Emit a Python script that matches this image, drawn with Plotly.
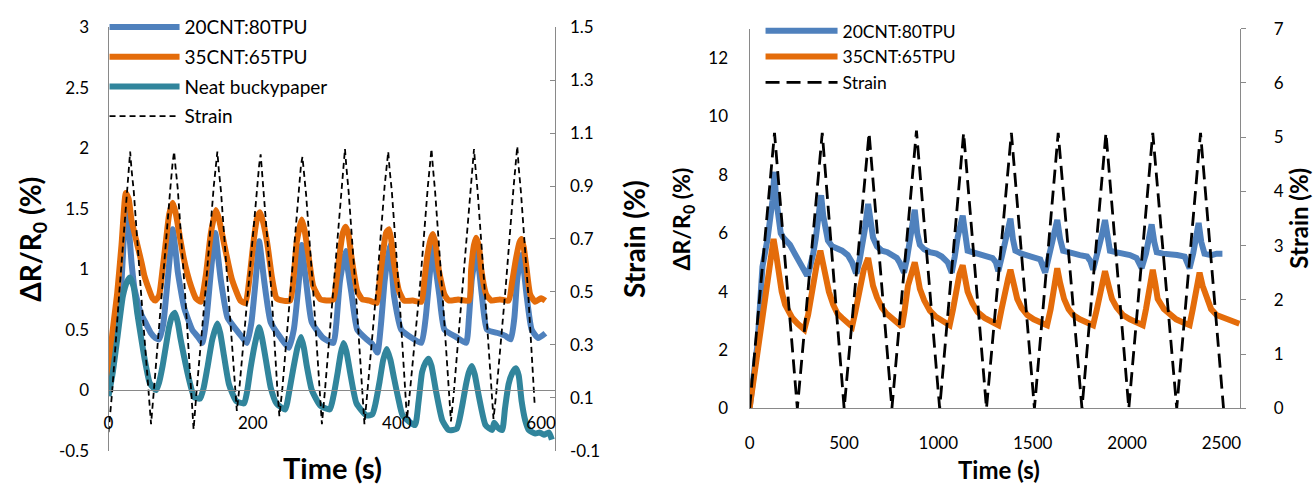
import plotly.graph_objects as go

# ---------------- Left panel: 600 s cyclic test (strain ~1 %) ----------------
t_blue_a = [0, 5, 12, 18, 24, 28, 32, 36, 45, 52, 59, 65, 70, 76, 80, 85, 89, 93, 96, 105, 116, 124, 130,
            136, 142, 148, 152, 156, 165, 177, 185, 192, 198, 204, 209, 212, 216, 225, 239, 250, 257, 264,
            268, 271, 275, 282, 298, 312, 316, 321, 329, 332, 337, 345, 358, 366, 373, 378, 383, 390, 393,
            396, 406, 421, 434, 440, 445, 450, 454, 459, 466, 482, 496, 500, 504, 511, 514, 518, 525, 541,
            550, 558, 563, 567, 573, 576, 580, 587, 596, 606]
r_blue_a = [0.0, 0.25, 0.52, 0.9, 1.5, 1.35, 1.05, 0.84, 0.63, 0.55, 0.47, 0.43, 0.42, 0.55, 0.78, 1.1,
            1.33, 1.15, 0.98, 0.68, 0.5, 0.44, 0.39, 0.6, 0.98, 1.3, 1.1, 0.9, 0.6, 0.5, 0.44, 0.39, 0.55,
            0.9, 1.23, 1.1, 0.9, 0.56, 0.43, 0.35, 0.5, 0.9, 1.2, 1.05, 0.85, 0.56, 0.43, 0.39, 0.55, 0.9,
            1.15, 1.0, 0.8, 0.5, 0.42, 0.38, 0.31, 0.55, 0.9, 1.2, 1.0, 0.78, 0.5, 0.43, 0.39, 0.6, 0.92,
            1.2, 1.0, 0.78, 0.5, 0.44, 0.39, 0.6, 0.92, 1.15, 1.0, 0.78, 0.5, 0.47, 0.45, 0.42, 0.6, 0.92,
            1.12, 1.0, 0.78, 0.5, 0.43, 0.47]

t_orange_a = [0, 5, 12, 18, 24, 28, 32, 40, 46, 50, 55, 61, 65, 70, 75, 80, 84, 89, 93, 98, 104, 109,
              115, 121, 128, 135, 142, 149, 153, 160, 171, 183, 190, 196, 201, 206, 210, 214, 220, 227,
              233, 242, 252, 257, 261, 268, 272, 277, 284, 294, 305, 312, 316, 320, 325, 329, 333, 337,
              345, 352, 362, 372, 376, 380, 385, 389, 392, 396, 403, 410, 422, 434, 438, 442, 447, 450,
              454, 458, 466, 472, 485, 500, 503, 507, 510, 514, 517, 524, 531, 543, 555, 560, 565, 570,
              573, 576, 580, 585, 592, 600, 606]
r_orange_a = [0.0, 0.45, 0.8, 1.2, 1.63, 1.58, 1.4, 1.2, 1.05, 0.94, 0.85, 0.76, 0.74, 0.78, 1.0, 1.25,
              1.45, 1.55, 1.47, 1.3, 1.1, 0.97, 0.85, 0.76, 0.73, 0.95, 1.3, 1.49, 1.42, 1.22, 0.92, 0.74,
              0.72, 0.95, 1.22, 1.42, 1.47, 1.4, 1.22, 0.92, 0.76, 0.74, 0.74, 0.95, 1.22, 1.41, 1.32,
              1.13, 0.86, 0.75, 0.74, 0.75, 0.9, 1.1, 1.3, 1.35, 1.28, 1.1, 0.82, 0.75, 0.74, 0.72, 0.9,
              1.1, 1.3, 1.33, 1.25, 1.05, 0.82, 0.74, 0.74, 0.73, 0.9, 1.1, 1.25, 1.29, 1.2, 1.0, 0.79,
              0.74, 0.75, 0.74, 1.0, 1.2, 1.26, 1.18, 1.0, 0.79, 0.74, 0.75, 0.74, 0.9, 1.08, 1.22, 1.25,
              1.18, 1.0, 0.79, 0.73, 0.76, 0.74]

t_neat_a = [0, 6, 12, 20, 26, 30, 35, 40, 45, 50, 57, 62, 66, 70, 75, 80, 84, 88, 92, 96, 100, 105, 110,
            119, 127, 132, 137, 144, 151, 155, 160, 167, 177, 188, 192, 197, 203, 209, 213, 218, 225, 233,
            245, 251, 257, 262, 267, 271, 275, 282, 294, 307, 312, 318, 322, 326, 330, 335, 344, 358, 366,
            370, 376, 381, 386, 391, 396, 402, 408, 425, 430, 435, 440, 444, 448, 454, 463, 472, 483, 490,
            496, 500, 504, 508, 514, 523, 532, 535, 540, 546, 550, 555, 560, 565, 569, 573, 578, 583, 592,
            598, 604, 611, 615]
r_neat_a = [-0.05, 0.15, 0.42, 0.78, 0.9, 0.93, 0.85, 0.63, 0.44, 0.26, 0.06, 0.02, 0.0, 0.06, 0.2, 0.38,
            0.52, 0.61, 0.64, 0.56, 0.42, 0.27, 0.13, -0.06, -0.07, 0.02, 0.18, 0.42, 0.55, 0.47, 0.29,
            0.05, -0.09, -0.11, -0.02, 0.18, 0.38, 0.52, 0.43, 0.26, 0.02, -0.11, -0.16, 0.0, 0.2, 0.35,
            0.44, 0.35, 0.2, 0.0, -0.13, -0.16, -0.05, 0.15, 0.3, 0.39, 0.32, 0.15, -0.11, -0.21, -0.2,
            -0.12, 0.07, 0.25, 0.34, 0.25, 0.1, -0.07, -0.21, -0.29, -0.1, 0.15, 0.23, 0.26, 0.2, 0.0,
            -0.25, -0.33, -0.32, -0.15, 0.05, 0.15, 0.2, 0.13, -0.06, -0.29, -0.33, -0.27, -0.31, -0.33,
            -0.15, 0.05, 0.14, 0.18, 0.12, -0.09, -0.25, -0.33, -0.36, -0.35, -0.37, -0.35, -0.41]

t_strain_a = [0, 5, 15, 25, 28, 30, 32, 35, 45, 55, 59,
              63, 75, 86, 89, 91, 93, 96, 106, 115, 118,
              122, 135, 146, 149, 151, 153, 156, 166, 175, 178,
              182, 195, 206, 209, 211, 213, 216, 226, 234, 237,
              241, 253, 264, 267, 269, 271, 274, 284, 293, 296,
              300, 312, 323, 326, 328, 330, 333, 343, 352, 355,
              359, 372, 383, 386, 388, 390, 393, 403, 411, 414,
              418, 432, 443, 446, 448, 450, 453, 463, 472, 475,
              479, 491, 502, 505, 507, 509, 512, 522, 531, 534,
              538, 551, 562, 565, 567, 569, 572, 582, 591]
s_strain_a = [-0.03, 0.12, 0.5, 0.86, 0.97, 1.03, 0.96, 0.88, 0.5, 0.13, 0.0,
              0.13, 0.55, 0.9, 0.99, 1.03, 0.97, 0.89, 0.5, 0.1, -0.02,
              0.12, 0.52, 0.9, 0.98, 1.03, 0.96, 0.88, 0.5, 0.15, 0.05,
              0.15, 0.55, 0.9, 0.98, 1.02, 0.95, 0.87, 0.5, 0.14, 0.03,
              0.13, 0.52, 0.9, 0.98, 1.01, 0.95, 0.87, 0.5, 0.12, 0.0,
              0.12, 0.52, 0.9, 0.99, 1.04, 0.97, 0.88, 0.5, 0.12, 0.0,
              0.12, 0.52, 0.9, 0.98, 1.03, 0.96, 0.88, 0.5, 0.13, 0.02,
              0.12, 0.52, 0.9, 0.99, 1.04, 0.97, 0.88, 0.5, 0.12, 0.01,
              0.12, 0.52, 0.9, 0.99, 1.04, 0.97, 0.88, 0.5, 0.12, 0.02,
              0.12, 0.52, 0.9, 0.99, 1.05, 0.97, 0.88, 0.5, 0.08]

# ---------------- Right panel: 2500 s cyclic test (strain ~5 %) ----------------
t_blue_b = [0, 20, 42, 68, 95, 121, 132, 140, 152, 165, 178, 195, 214, 235, 257, 284, 300, 311, 325, 337,
            350, 363, 379, 390, 401, 415, 437, 460, 490, 520, 543, 560, 569, 582, 596, 610, 628, 640, 654,
            675, 701, 730, 754, 780, 796, 818, 833, 849, 862, 875, 888, 902, 925, 955, 990, 1018, 1050,
            1071, 1087, 1102, 1129, 1142, 1155, 1180, 1208, 1245, 1287, 1305, 1318, 1340, 1360, 1382, 1395,
            1408, 1440, 1471, 1505, 1540, 1566, 1590, 1610, 1630, 1645, 1661, 1690, 1714, 1750, 1788, 1805,
            1820, 1845, 1865, 1883, 1896, 1909, 1940, 1978, 2015, 2050, 2065, 2077, 2100, 2115, 2130, 2144,
            2157, 2190, 2226, 2265, 2305, 2320, 2331, 2350, 2365, 2379, 2393, 2410, 2447, 2475, 2505]
r_blue_b = [0.0, 1.1, 2.2, 4.85, 5.8, 7.1, 8.1, 7.2, 6.6, 6.0, 5.85, 5.75, 5.6, 5.35, 5.1, 4.75, 4.6,
            4.6, 4.95, 5.3, 5.8, 6.4, 7.3, 6.6, 6.05, 5.75, 5.55, 5.5, 5.4, 5.25, 5.0, 4.7, 4.7, 5.05, 5.5,
            6.1, 7.0, 6.3, 5.85, 5.55, 5.4, 5.35, 5.25, 5.15, 4.98, 4.65, 5.1, 5.75, 6.2, 6.8, 6.0, 5.6,
            5.45, 5.35, 5.3, 5.2, 5.0, 4.65, 5.2, 5.85, 6.6, 5.8, 5.4, 5.35, 5.3, 5.25, 5.15, 5.0, 4.7,
            5.3, 5.9, 6.5, 5.8, 5.4, 5.3, 5.25, 5.2, 5.1, 4.65, 5.3, 5.9, 6.45, 5.8, 5.4, 5.35, 5.3, 5.25,
            5.2, 5.05, 4.75, 5.3, 5.9, 6.45, 5.8, 5.4, 5.35, 5.3, 5.25, 5.15, 5.0, 4.8, 5.3, 5.8, 6.3, 5.7,
            5.35, 5.3, 5.3, 5.25, 5.2, 5.0, 4.8, 5.3, 5.85, 6.35, 5.7, 5.3, 5.25, 5.3, 5.3]

t_orange_b = [0, 30, 68, 100, 127, 140, 152, 170, 188, 205, 226, 255, 290, 310, 332, 355, 375, 388, 401,
              420, 443, 465, 490, 515, 543, 560, 585, 605, 628, 640, 654, 675, 701, 725, 754, 780, 807,
              820, 839, 857, 875, 888, 902, 925, 955, 985, 1018, 1040, 1060, 1078, 1097, 1112, 1129, 1142,
              1155, 1180, 1208, 1245, 1287, 1318, 1335, 1355, 1370, 1382, 1398, 1418, 1440, 1471, 1505,
              1540, 1576, 1595, 1612, 1630, 1645, 1666, 1690, 1714, 1750, 1788, 1820, 1840, 1860, 1883,
              1900, 1920, 1945, 1978, 2015, 2050, 2083, 2100, 2118, 2136, 2150, 2162, 2195, 2226, 2260,
              2294, 2331, 2348, 2365, 2384, 2400, 2421, 2445, 2474, 2510, 2542, 2570, 2595]
r_orange_b = [0.0, 1.4, 2.9, 4.4, 5.8, 5.3, 4.65, 4.0, 3.55, 3.3, 3.1, 2.9, 2.7, 3.2, 4.2, 4.9, 5.4, 5.0,
              4.5, 4.0, 3.55, 3.25, 3.1, 2.95, 2.8, 3.3, 4.2, 4.75, 5.15, 4.7, 4.2, 3.8, 3.45, 3.25, 3.1,
              2.95, 2.8, 3.3, 4.2, 4.6, 5.0, 4.6, 4.1, 3.7, 3.35, 3.15, 3.0, 2.9, 2.85, 3.4, 4.2, 4.6, 4.9,
              4.5, 4.0, 3.6, 3.3, 3.1, 2.95, 2.85, 3.4, 4.1, 4.45, 4.75, 4.3, 3.75, 3.45, 3.2, 3.05, 2.95,
              2.85, 3.4, 4.1, 4.8, 4.3, 3.75, 3.4, 3.2, 3.05, 2.95, 2.85, 3.4, 4.1, 4.7, 4.25, 3.75, 3.45,
              3.2, 3.05, 2.95, 2.85, 3.4, 4.1, 4.75, 4.25, 3.75, 3.4, 3.2, 3.05, 2.95, 2.85, 3.4, 4.1,
              4.65, 4.2, 3.75, 3.4, 3.2, 3.1, 3.0, 2.95, 2.9]

t_strain_b = [0, 132, 253, 385, 501, 633, 754, 884, 1007, 1134, 1255, 1387, 1509, 1635, 1761, 1888,
              2009, 2136, 2263, 2389, 2511]
s_strain_b = [0.0, 5.08, 0.0, 5.08, 0.0, 5.08, 0.0, 5.12, 0.0, 5.08, 0.0, 5.08, 0.0, 5.08, 0.0, 5.08,
              0.0, 5.08, 0.0, 5.08, 0.0]

# ---------------- Axis ticks ----------------
left_y_ticks = [-0.5, 0, 0.5, 1, 1.5, 2, 2.5, 3]
left_y_labels = ["-0.5", "0", "0.5", "1", "1.5", "2", "2.5", "3"]
left_y2_ticks = [-0.1, 0.1, 0.3, 0.5, 0.7, 0.9, 1.1, 1.3, 1.5]
left_y2_labels = ["-0.1", "0.1", "0.3", "0.5", "0.7", "0.9", "1.1", "1.3", "1.5"]
left_x_ticks = [0, 200, 400, 600]
right_y_ticks = [0, 2, 4, 6, 8, 10, 12]
right_y2_ticks = [0, 1, 2, 3, 4, 5, 6, 7]
right_x_ticks = [0, 500, 1000, 1500, 2000, 2500]

BLUE = "#4F81BD"
ORANGE = "#E46C0A"
TEAL = "#31859C"
AXIS = "#898989"
FONT = "Lato"

W, H = 1316, 496

# plot-area boxes in pixels
L_X0, L_X1, L_Y0, L_Y1 = 104, 553, 17, 459
R_X0, R_X1, R_Y0, R_Y1 = 748, 1241, 18.5, 415


def fx(px):
    return px / W


def fy(py):
    return 1 - py / H


L_YRANGE = [-0.5, 3]
# paper position of the y = 0 line for the left time axis
left_zero = fy(L_Y1) + (0 - L_YRANGE[0]) / (L_YRANGE[1] - L_YRANGE[0]) * (fy(L_Y0) - fy(L_Y1))

fig = go.Figure()

lw = 6
fig.add_trace(go.Scatter(x=t_blue_a, y=r_blue_a, mode="lines", name="20CNT:80TPU",
                         line=dict(color=BLUE, width=lw, shape="spline", smoothing=0.5),
                         xaxis="x", yaxis="y", legend="legend", legendgroup="a1"))
fig.add_trace(go.Scatter(x=t_orange_a, y=r_orange_a, mode="lines", name="35CNT:65TPU",
                         line=dict(color=ORANGE, width=lw, shape="spline", smoothing=0.5),
                         xaxis="x", yaxis="y", legend="legend", legendgroup="a2"))
fig.add_trace(go.Scatter(x=t_neat_a, y=r_neat_a, mode="lines", name="Neat buckypaper",
                         line=dict(color=TEAL, width=lw, shape="spline", smoothing=0.5),
                         xaxis="x", yaxis="y", legend="legend", legendgroup="a3"))
fig.add_trace(go.Scatter(x=t_strain_a, y=s_strain_a, mode="lines", name="Strain",
                         line=dict(color="black", width=1.8, dash="6px,4px"),
                         xaxis="x", yaxis="y2", legend="legend", legendgroup="a4"))

fig.add_trace(go.Scatter(x=t_blue_b, y=r_blue_b, mode="lines", name="20CNT:80TPU",
                         line=dict(color=BLUE, width=lw),
                         xaxis="x2", yaxis="y3", legend="legend2", legendgroup="b1"))
fig.add_trace(go.Scatter(x=t_orange_b, y=r_orange_b, mode="lines", name="35CNT:65TPU",
                         line=dict(color=ORANGE, width=lw),
                         xaxis="x2", yaxis="y3", legend="legend2", legendgroup="b2"))
fig.add_trace(go.Scatter(x=t_strain_b, y=s_strain_b, mode="lines", name="Strain",
                         line=dict(color="black", width=2.8, dash="14px,7px"),
                         xaxis="x2", yaxis="y4", legend="legend2", legendgroup="b3"))

tick_font = dict(family=FONT, size=17, color="black")
common = dict(showgrid=False, zeroline=False, showline=True, linecolor=AXIS, linewidth=1.2,
              tickfont=tick_font, fixedrange=True)

fig.update_layout(
    width=W, height=H,
    margin=dict(l=0, r=0, t=0, b=0),
    paper_bgcolor="white", plot_bgcolor="rgba(0,0,0,0)",
    font=dict(family=FONT, color="black"),
    xaxis=dict(domain=[fx(L_X0), fx(L_X1)], range=[0, 620], anchor="free", position=left_zero,
               tickvals=left_x_ticks, ticks="", ticklabelstandoff=17, **common),
    yaxis=dict(domain=[fy(L_Y1), fy(L_Y0)], range=L_YRANGE, anchor="x",
               tickvals=left_y_ticks, ticktext=left_y_labels, ticks="", ticklabelstandoff=15, **common),
    yaxis2=dict(range=[-0.1, 1.5], overlaying="y", side="right", anchor="x",
                tickvals=left_y2_ticks, ticktext=left_y2_labels, ticks="inside", ticklen=5,
                tickcolor=AXIS, ticklabelstandoff=10, **common),
    xaxis2=dict(domain=[fx(R_X0), fx(R_X1)], range=[0, 2600], anchor="y3",
                tickvals=right_x_ticks, ticks="", ticklabelstandoff=19, **common),
    yaxis3=dict(domain=[fy(R_Y1), fy(R_Y0)], range=[0, 13], anchor="x2",
                tickvals=right_y_ticks, ticks="", ticklabelstandoff=17, **common),
    yaxis4=dict(range=[0, 7], overlaying="y3", side="right", anchor="x2",
                tickvals=right_y2_ticks, ticks="outside", ticklen=5, tickcolor=AXIS,
                ticklabelstandoff=24, **common),
    legend=dict(x=fx(100), y=fy(-3), xanchor="left", yanchor="top", bgcolor="rgba(0,0,0,0)",
                font=dict(family=FONT, size=19, color="black"), itemwidth=70,
                tracegroupgap=2, itemclick=False, itemdoubleclick=False),
    legend2=dict(x=fx(759), y=fy(2), xanchor="left", yanchor="top", bgcolor="rgba(0,0,0,0)",
                 font=dict(family=FONT, size=17.5, color="black"), itemwidth=72,
                 tracegroupgap=0, itemclick=False, itemdoubleclick=False),
    showlegend=True,
)

title_bold = dict(family=FONT, color="black", weight="bold")
annotations = [
    dict(text="ΔR/R<sub>0</sub> (%)", x=fx(27), y=fy((L_Y0 + L_Y1) / 2), textangle=-90,
         font=dict(size=28, **title_bold)),
    dict(text="Strain (%)", x=fx(632), y=fy((L_Y0 + L_Y1) / 2), textangle=-90,
         font=dict(size=28, **title_bold)),
    dict(text="Time (s)", x=fx(329), y=fy(477), font=dict(size=29, **title_bold)),
    dict(text="ΔR/R<sub>0</sub> (%)", x=fx(681), y=fy((R_Y0 + R_Y1) / 2), textangle=-90,
         font=dict(size=23, **title_bold)),
    dict(text="Strain (%)", x=fx(1300), y=fy((R_Y0 + R_Y1) / 2), textangle=-90,
         font=dict(size=24, **title_bold)),
    dict(text="Time (s)", x=fx(999), y=fy(479), font=dict(size=24, **title_bold)),
]
for a in annotations:
    a.update(xref="paper", yref="paper", showarrow=False, xanchor="center", yanchor="middle")
fig.update_layout(annotations=annotations)

fig.write_html("out.html", config={"displayModeBar": False})
